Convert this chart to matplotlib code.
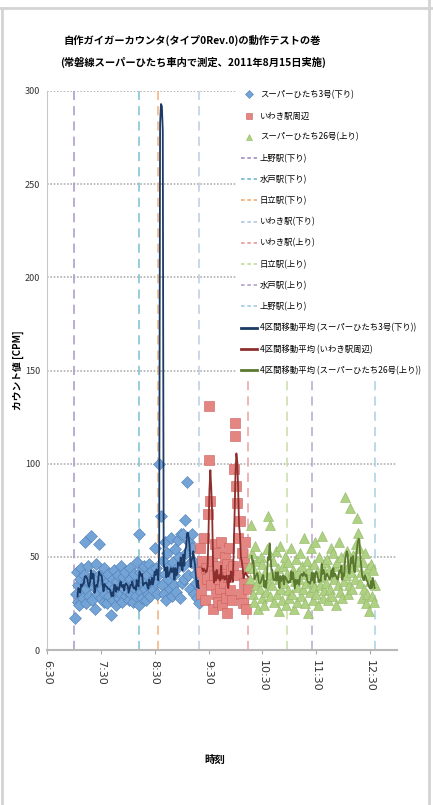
import matplotlib
matplotlib.use("Agg")
import matplotlib.pyplot as plt
from matplotlib.lines import Line2D
import numpy as np
import pandas as pd

plt.rcParams['font.family'] = ['Noto Sans CJK JP', 'DejaVu Sans']

# counts per minute, one value per minute
blue_start = "7:01"   # スーパーひたち3号(下り)
blue_cpm = [17, 30, 42, 26, 35, 24, 38, 44, 31, 28, 40, 58, 33, 25, 37, 45, 29, 36, 61, 27,
            40, 34, 22, 38, 46, 30, 35, 57, 41, 28,
            33, 39, 26, 44, 30, 36, 25, 41, 29, 35, 19, 32, 38, 27, 43, 31, 24, 37, 40, 28,
            34, 45, 30, 26, 39, 33, 42, 29, 36, 31,
            27, 38, 44, 30, 35, 26, 41, 33, 29, 47, 36, 24, 62, 42, 31, 28, 38, 45, 33, 27,
            40, 35, 30, 46, 29, 37, 43, 32, 38, 55,
            36, 44, 30, 40, 100, 960, 72, 35, 48, 30, 58, 41, 27, 52, 38, 45, 33, 60, 29, 47,
            40, 35, 54, 31, 44, 59, 50, 28, 62, 36,
            45, 62, 38, 70, 52, 90, 40, 58, 33, 47, 55, 62, 48, 30, 41, 36, 28, 44, 25]

red_start = "9:20"    # いわき駅周辺
red_cpm = [42, 55, 30, 48, 36, 60, 27, 44, 38,
           73, 102, 131, 80,
           35, 48, 22, 40, 57, 30, 45, 26, 52, 38, 33, 58, 24, 41, 36, 50, 28, 46, 20, 39,
           55, 32, 43, 27, 45,
           97, 122, 115, 88, 79, 60,
           40, 69, 30, 52, 25, 47, 36, 58, 22, 44, 33]

green_start = "10:15"  # スーパーひたち26号(上り)
green_cpm = [45, 38, 67, 52, 30, 44, 26, 56, 35, 48, 22, 40, 33, 50, 28, 46, 37, 24, 42, 31,
             54, 72, 36, 67, 29, 41,
             35, 48, 26, 40, 53, 30, 44, 21, 38, 56, 33, 27, 45, 36, 50, 24, 41, 32, 47, 28,
             39, 55, 30, 43, 22, 37, 49, 34, 26, 42,
             38, 52, 29, 45, 33, 60, 25, 41, 36, 48, 20, 43, 31, 55, 37, 27, 46, 34, 58, 30,
             42, 24, 50, 35, 39, 61, 28, 44, 32, 47,
             36, 49, 27, 43, 33, 55, 40, 29, 52, 38, 45, 24, 47, 35, 58, 31, 42, 50, 28, 44,
             37, 82, 40, 53, 30, 46, 35, 76, 42, 33,
             51, 45, 38, 57, 71, 63, 48, 55, 36, 42, 28, 47, 33, 52, 25, 40, 30, 44, 21, 37,
             46, 29, 43, 26, 35]

station_names = ['上野駅(下り)', '水戸駅(下り)', '日立駅(下り)', 'いわき駅(下り)',
                 'いわき駅(上り)', '日立駅(上り)', '水戸駅(上り)', '上野駅(上り)']
station_times = ["7:00", "8:13", "8:34", "9:19", "10:14", "10:57", "11:25", "12:35"]
station_colors = ['#a896c8', '#7cc0d2', '#f4b07a', '#b9cde6',
                  '#eaa3a3', '#c9dca6', '#b7a8cc', '#a9d0e4']

tick_labels = ["6:30", "7:30", "8:30", "9:30", "10:30", "11:30", "12:30"]


def hours(s):
    h, m = s.split(":")
    return int(h) + int(m) / 60.0


def minutes_axis(start, n):
    return hours(start) + np.arange(n) / 60.0


fig = plt.figure(figsize=(4.33, 8.05), dpi=100)
ax = fig.add_axes([0.1085, 0.1925, 0.8085, 0.6945])

series = [
    (blue_start, blue_cpm, 'D', '#74a3d6', '#4f7fb8', '#1c3a66', 'スーパーひたち3号(下り)',
     '4区間移動平均 (スーパーひたち3号(下り))'),
    (red_start, red_cpm, 's', '#e58582', '#c95f5c', '#8e2f2d', 'いわき駅周辺',
     '4区間移動平均 (いわき駅周辺)'),
    (green_start, green_cpm, '^', '#afd183', '#93b866', '#5b7a30', 'スーパーひたち26号(上り)',
     '4区間移動平均 (スーパーひたち26号(上り))'),
]

scatter_handles = []
ma_handles = []
for start, vals, mk, fc, ec, lc, lab, malab in series:
    x = minutes_axis(start, len(vals))
    ax.plot(x, vals, linestyle='none', marker=mk, markersize=6.5 if mk != 'D' else 6,
            markerfacecolor=fc, markeredgecolor=ec, markeredgewidth=0.4, zorder=3,
            clip_on=True)
    ma = pd.Series(vals).rolling(4).mean()
    ax.plot(x, ma, color=lc, linewidth=1.3, zorder=4)
    scatter_handles.append(Line2D([], [], linestyle='none', marker=mk, markersize=4,
                                  markerfacecolor=fc, markeredgecolor=ec,
                                  markeredgewidth=0.4, label=lab))
    ma_handles.append(Line2D([], [], color=lc, linewidth=2, label=malab))

station_handles = []
for name, t, c in zip(station_names, station_times, station_colors):
    ax.axvline(hours(t), ymin=0, ymax=1, color=c, linestyle=(0, (6, 4)),
               linewidth=1.1, zorder=2)
    station_handles.append(Line2D([], [], color=c, linestyle=(0, (2, 1.5)),
                                  linewidth=1.3, label=name))

ax.set_xlim(6.5, 13.0)
ax.set_ylim(0, 300)
ax.set_yticks(range(0, 301, 50))
ax.set_xticks([hours(s) for s in tick_labels])
ax.set_xticklabels(tick_labels, rotation=-90, fontsize=8, color='#333333',
                   family='DejaVu Sans')
ax.tick_params(axis='y', labelsize=6.5, colors='#333333', length=0, pad=5)
ax.tick_params(axis='x', length=3, color='#aaaaaa', pad=4)
ax.yaxis.grid(True, color='#b0b0b0', linestyle=(0, (1, 1)), linewidth=1.2)
ax.set_axisbelow(True)
for sp in ['top', 'right']:
    ax.spines[sp].set_visible(False)
ax.spines['left'].set_color('#c8c8c8')
ax.spines['bottom'].set_color('#b8b8b8')
ax.spines['bottom'].set_linewidth(1.5)

ax.set_ylabel('カウント値 [CPM]', fontsize=7, fontweight='bold')
ax.yaxis.set_label_coords(-0.066, 0.5)
fig.text(0.497, 0.056, '時刻', fontsize=7.5, fontweight='bold', ha='center', va='center')

fig.text(0.445, 0.95, '自作ガイガーカウンタ(タイプ0Rev.0)の動作テストの巻', fontsize=7.4,
         fontweight='bold', ha='center', va='center')
fig.text(0.445, 0.922, '(常磐線スーパーひたち車内で測定、2011年8月15日実施)', fontsize=7.4,
         fontweight='bold', ha='center', va='center')

leg = ax.legend(handles=scatter_handles + station_handles + ma_handles,
                loc='upper left', bbox_to_anchor=(0.548, 0.892),
                bbox_transform=fig.transFigure, fontsize=6, frameon=True,
                facecolor='white', edgecolor='white', framealpha=1,
                labelspacing=1.45, handlelength=2.0, handletextpad=0.3,
                borderpad=0.4, borderaxespad=0)
leg.set_zorder(10)

# chart area border
fig.add_artist(Line2D([0, 1], [1 - 8 / 805, 1 - 8 / 805], color='#d4d4d4', linewidth=2,
                      transform=fig.transFigure))
fig.add_artist(Line2D([2 / 433, 2 / 433], [0, 1 - 8 / 805], color='#d4d4d4', linewidth=2,
                      transform=fig.transFigure))
fig.add_artist(Line2D([429 / 433, 429 / 433], [0, 1], color='#d4d4d4', linewidth=2,
                      transform=fig.transFigure))

fig.savefig('out.png', dpi=100)
